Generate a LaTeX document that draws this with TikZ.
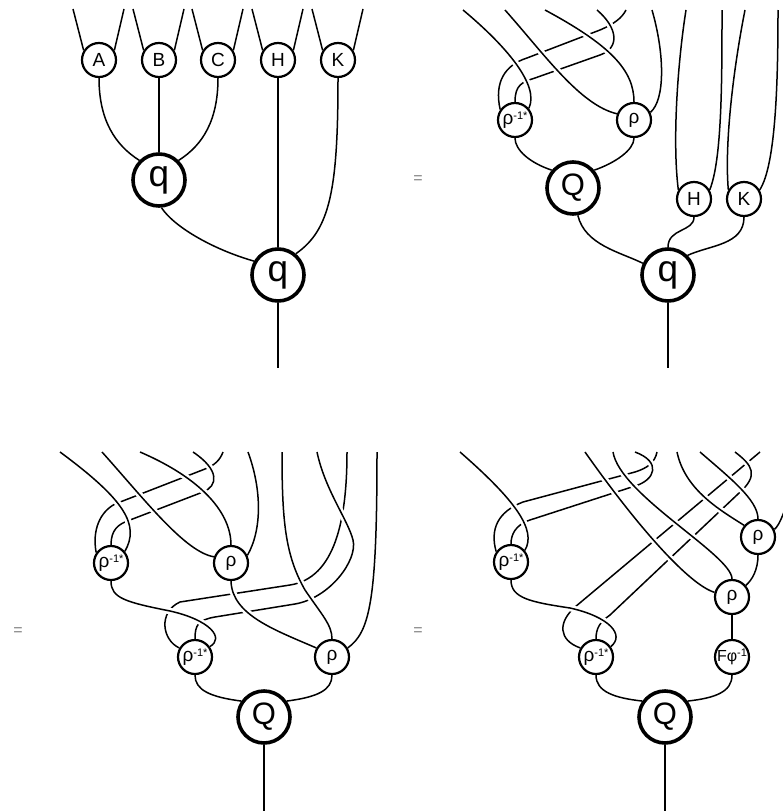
\documentclass[tikz,border=0pt]{standalone}
\usepackage{fontspec}
\setmainfont{Liberation Sans}
\usetikzlibrary{backgrounds}

\newcommand{\supr}[1]{\raisebox{0.55ex}{\fontsize{11}{11}\selectfont#1}}

\begin{document}
\begin{tikzpicture}[
    x=1pt, y=-1pt,
    morph/.style={
        draw,
        circle,
        fill=white,
        line width=2.2pt,
        minimum size=34pt,
        inner sep=0pt,
        font=\fontsize{19}{19}\selectfont
      },
    mult/.style={
        draw,
        circle,
        fill=white,
        line width=3.6pt,
        minimum size=52pt,
        inner sep=0pt,
        font=\fontsize{31}{31}\selectfont
      },
    strand/.style={line width=1.5pt},
    over/.style={strand, preaction={draw=white, line width=6.5pt}},
    equals/.style={text=gray, font=\fontsize{16}{16}\selectfont}
  ]
  \useasboundingbox (0,0) rectangle (783,811);

  % top left
  \foreach \n/\x in {A/99,B/159,C/218,H/278,K/338}
  \node[morph] (\n) at (\x,60) {\n};
  \node[mult,font=\fontsize{37}{37}\selectfont] (qa) at (159,180) {q};
  \node[mult,font=\fontsize{37}{37}\selectfont] (qb) at (278,275) {q};

  % top right
  \node[morph] (ri1) at (515,120) {ρ\supr{-1*}};
  \node[morph] (rh1) at (634,120) {ρ};
  \node[mult] (Qa) at (573,188) {Q};
  \node[morph] (H2) at (694,199) {H};
  \node[morph] (K2) at (744,199) {K};
  \node[mult,font=\fontsize{37}{37}\selectfont] (qc) at (668,275) {q};

  % bottom left
  \node[morph] (ri2) at (111,563) {ρ\supr{-1*}};
  \node[morph] (rh2) at (231,563) {ρ};
  \node[morph] (ri3) at (195,657) {ρ\supr{-1*}};
  \node[morph] (rh3) at (332,657) {ρ};
  \node[mult] (Qb) at (264,717) {Q};

  % bottom right
  \node[morph] (ri4) at (511,562) {ρ\supr{-1*}};
  \node[morph] (ri5) at (596,657) {ρ\supr{-1*}};
  \node[morph] (rh4) at (758,537) {ρ};
  \node[morph] (rh5) at (732,597) {ρ};
  \node[morph,font=\fontsize{16}{16}\selectfont] (Fp) at (732,657) {Fφ\supr{-1}};
  \node[mult] (Qc) at (665,717) {Q};

  \node[equals] (eq1) at (418,180) {=};
  \node[equals] (eq2) at (18,632) {=};
  \node[equals] (eq3) at (418,632) {=};

  \begin{scope}[on background layer]
    % top left
    \foreach \n/\x in {A/99,B/159,C/218,H/278,K/338}
    \draw[strand] (\n.148) -- (\x-26,9) (\n.32) -- (\x+25,9);
    \draw[strand] (A.south) .. controls (99,120) and (115,145) .. (qa.135);
    \draw[strand] (B.south) -- (qa.north);
    \draw[strand] (C.south) .. controls (218,120) and (203,145) .. (qa.45);
    \draw[strand] (qa.-85) .. controls (175,228) and (215,250) .. (qb.150);
    \draw[strand] (H.south) -- (qb.north);
    \draw[strand] (K.south) .. controls (338,190) and (330,230) .. (qb.50);
    \draw[strand] (qb.south) -- (278,368);

    % top right
    \draw[strand] (ri1.145) .. controls (494,82) and (505,65) .. (527,58)
      -- (600,30) .. controls (614,24) and (622,18) .. (626,10);
    \draw[over] (ri1.north) .. controls (515,85) and (522,82) .. (535,78)
      -- (600,55) .. controls (620,48) and (618,28) .. (597,10);
    \draw[over] (ri1.40) .. controls (540,85) and (505,45) .. (463,10);
    \draw[over] (rh1.160) .. controls (580,105) and (545,55) .. (505,10);
    \draw[over] (rh1.north) .. controls (634,70) and (610,45) .. (545,10);
    \draw[strand] (rh1.25) .. controls (665,100) and (665,55) .. (652,10);
    \draw[strand] (H2.150) .. controls (672,140) and (678,60) .. (686,10);
    \draw[strand] (H2.30) .. controls (722,160) and (722,80) .. (722,10);
    \draw[strand] (K2.150) .. controls (724,140) and (735,60) .. (745,10);
    \draw[strand] (K2.30) .. controls (776,165) and (778,80) .. (778,10);
    \draw[strand] (ri1.south) .. controls (515,150) and (530,163) .. (Qa.140);
    \draw[strand] (rh1.south) .. controls (634,150) and (615,163) .. (Qa.40);
    \draw[strand] (Qa.-80) .. controls (585,245) and (620,252) .. (qc.155);
    \draw[strand] (H2.south) .. controls (694,232) and (668,228) .. (qc.north);
    \draw[strand] (K2.south) .. controls (744,245) and (710,245) .. (qc.45);
    \draw[strand] (qc.south) -- (668,368);

    % bottom left
    \draw[strand] (ri2.145) .. controls (92,530) and (100,512) .. (115,504)
      -- (205,469) .. controls (215,465) and (220,460) .. (223,452);
    \draw[over] (ri2.north) .. controls (111,530) and (118,524) .. (130,520)
      -- (203,492) .. controls (218,486) and (220,470) .. (193,452);
    \draw[over] (ri2.40) .. controls (140,525) and (125,500) .. (60,452);
    \draw[over] (rh2.160) .. controls (185,552) and (145,500) .. (102,452);
    \draw[over] (rh2.north) .. controls (231,515) and (205,480) .. (140,452);
    \draw[strand] (rh2.25) .. controls (262,530) and (262,490) .. (248,452);
    \draw[strand] (ri3.150) .. controls (162,640) and (158,612) .. (180,602)
      -- (290,585) .. controls (335,578) and (347,520) .. (347,452);
    \draw[over] (ri3.north) .. controls (195,625) and (198,620) .. (215,617)
      -- (295,604) .. controls (330,598) and (358,560) .. (353,540)
      .. controls (348,520) and (325,490) .. (317,452);
    \draw[over] (rh3.north) .. controls (332,625) and (322,615) .. (305,590)
      .. controls (285,555) and (282,520) .. (282,452);
    \draw[strand] (rh3.30) .. controls (370,632) and (377,600) .. (377,452);
    \draw[over] (ri2.south) .. controls (111,598) and (125,602) .. (170,611)
      .. controls (210,620) and (225,638) .. (ri3.35);
    \draw[over] (rh2.south) .. controls (232,615) and (275,630) .. (rh3.150);
    \draw[strand] (ri3.south) .. controls (195,690) and (210,697) .. (Qb.145);
    \draw[strand] (rh3.south) .. controls (332,690) and (318,697) .. (Qb.35);
    \draw[strand] (Qb.south) -- (264,811);

    % bottom right
    \draw[strand] (ri4.145) .. controls (490,530) and (497,512) .. (523,502)
      -- (635,472) .. controls (648,468) and (655,462) .. (657,452);
    \draw[strand] (ri5.150) .. controls (558,640) and (558,622) .. (575,607)
      -- (760,452);
    \draw[over] (ri4.north) .. controls (511,535) and (515,525) .. (530,520)
      -- (635,486) .. controls (655,480) and (662,462) .. (635,452);
    \draw[over] (ri5.north) .. controls (596,628) and (600,622) .. (610,615)
      -- (738,494) .. controls (760,475) and (752,465) .. (735,452);
    \draw[over] (ri4.40) .. controls (537,530) and (515,500) .. (460,452);
    \draw[over] (rh5.165) .. controls (690,585) and (640,530) .. (585,452);
    \draw[over] (rh5.north) .. controls (732,555) and (620,495) .. (613,452);
    \draw[over] (rh4.140) .. controls (720,510) and (685,490) .. (677,452);
    \draw[over] (rh4.north) .. controls (758,500) and (730,478) .. (700,452);
    \draw[strand] (rh4.25) .. controls (780,525) and (785,510) .. (795,480);
    \draw[over] (ri4.south) .. controls (511,598) and (530,602) .. (570,608)
      .. controls (610,617) and (625,635) .. (ri5.35);
    \draw[strand] (rh4.south) .. controls (758,570) and (752,580) .. (rh5.40);
    \draw[strand] (rh5.south) -- (Fp.north);
    \draw[strand] (Fp.south) .. controls (732,692) and (715,698) .. (Qc.35);
    \draw[strand] (ri5.south) .. controls (596,692) and (615,698) .. (Qc.145);
    \draw[strand] (Qc.south) -- (665,811);
  \end{scope}
\end{tikzpicture}
\end{document}
